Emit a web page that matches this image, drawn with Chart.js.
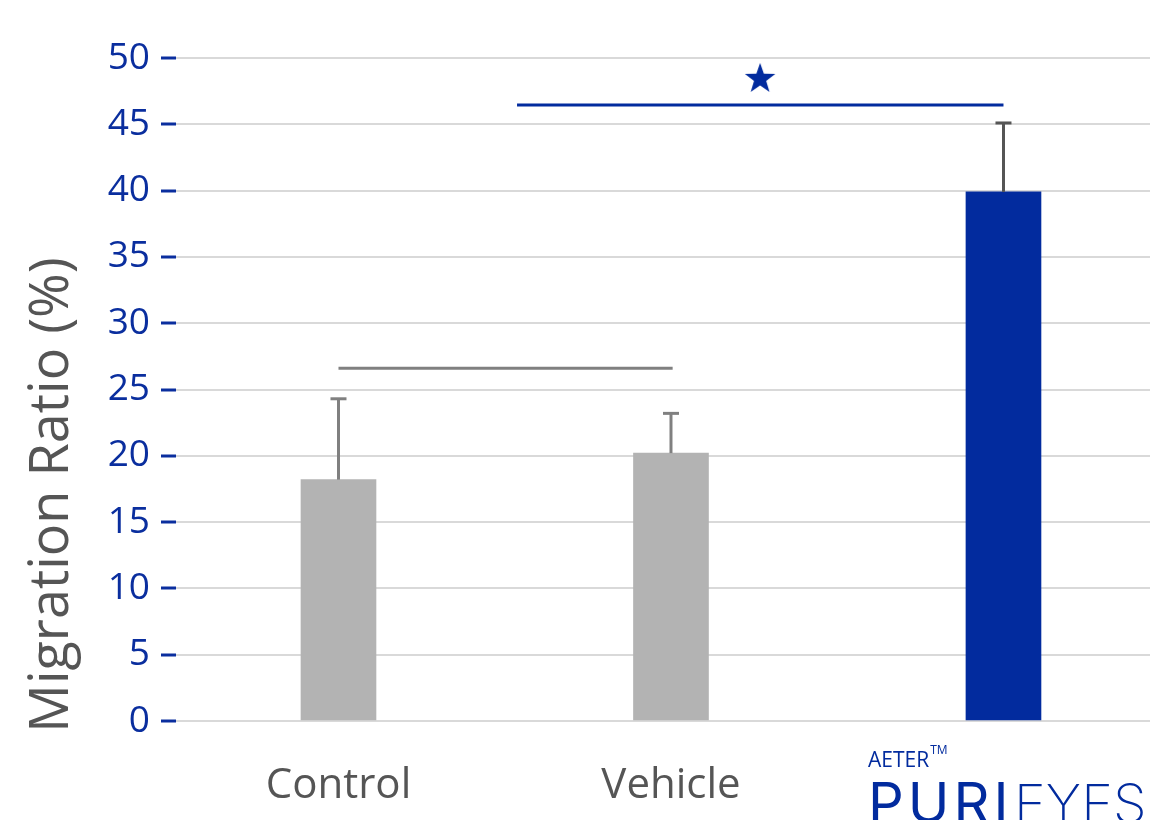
<!DOCTYPE html>
<html><head><meta charset="utf-8">
<script src="https://cdn.jsdelivr.net/npm/chart.js@4.4.1/dist/chart.umd.min.js"></script>
<style>
html,body{margin:0;padding:0;overflow:hidden;background:#fff;width:1150px;height:820px}
#wrap{width:1170px;height:820px;position:relative}
canvas{display:block}
</style>
</head><body><div id="wrap"><canvas id="c" width="1170" height="820"></canvas></div>
<script>
// ---- data ----
const categories = ['Control', 'Vehicle', 'PURI EYES'];
const means = [18.2, 20.2, 39.9];
const errors = [6.1, 3.0, 5.2];
const barColors = ['#b3b3b3', '#b3b3b3', '#022b9e'];
const errorColors = ['#808080', '#808080', '#555555'];
const yMin = 0, yMax = 50, yStep = 5;
const bracketNS = [0, 1.005];      // x positions (category index)
const bracketNSLevel = 26.6;
const bracketSig = [0.537, 2.0];
const bracketSigLevel = 46.45;
const starX = 1.268, starY = 48.5;
const yTitle = 'Migration Ratio (%)';
const logoSmall = 'AETER';
const logoWords = ['PURI', 'EYES'];

const BLUE = '#0a2e9e';
const GREY_TXT = '#555555';
const FONT = "'Open Sans', 'Noto Sans', sans-serif";

// star image for point style
function makeStar(r, color) {
  const c = document.createElement('canvas');
  const s = Math.ceil(r * 2 + 2);
  c.width = s; c.height = s;
  const g = c.getContext('2d');
  g.fillStyle = color;
  g.beginPath();
  const ri = r * 0.40;
  for (let i = 0; i < 10; i++) {
    const rr = i % 2 === 0 ? r : ri;
    const a = -Math.PI / 2 + i * Math.PI / 5;
    const px = s / 2 + rr * Math.cos(a), py = s / 2 + 1 + rr * Math.sin(a);
    if (i === 0) g.moveTo(px, py); else g.lineTo(px, py);
  }
  g.closePath(); g.fill();
  return c;
}
const starImg = makeStar(16, '#022b9e');

const errorBars = {
  id: 'errorBars',
  afterDatasetsDraw(chart) {
    const { ctx, scales: { x, y } } = chart;
    ctx.save();
    means.forEach((m, i) => {
      const px = x.getPixelForValue(i);
      const y0 = y.getPixelForValue(m);
      const y1 = y.getPixelForValue(m + errors[i]);
      ctx.strokeStyle = errorColors[i];
      ctx.lineWidth = 3;
      ctx.beginPath(); ctx.moveTo(px, y0); ctx.lineTo(px, y1); ctx.stroke();
      ctx.beginPath(); ctx.moveTo(px - 8, y1); ctx.lineTo(px + 8, y1); ctx.stroke();
    });
    ctx.restore();
  }
};

const extras = {
  id: 'extras',
  afterDraw(chart) {
    const { ctx } = chart;
    ctx.save();
    // y-axis title
    ctx.translate(68, 495);
    ctx.rotate(-Math.PI / 2);
    ctx.fillStyle = GREY_TXT;
    ctx.font = "54px " + FONT;
    ctx.textAlign = 'center';
    ctx.textBaseline = 'alphabetic';
    ctx.fillText(yTitle, 0, 0);
    ctx.restore();

    // logo for third category
    ctx.save();
    ctx.fillStyle = '#022b9e';
    ctx.textBaseline = 'alphabetic';
    ctx.textAlign = 'left';
    ctx.font = "21px " + FONT;
    ctx.fillText(logoSmall, 868, 767);
    const w = ctx.measureText(logoSmall).width;
    ctx.font = "12px " + FONT;
    ctx.fillText('TM', 868 + w + 1, 754);
    ctx.font = "400 56px Inter, " + FONT;
    ctx.letterSpacing = '4px';
    ctx.fillText(logoWords[0], 868, 823);
    ctx.font = "200 54px Inter, " + FONT;
    ctx.letterSpacing = '0px';
    ctx.fillText(logoWords[1], 1014, 823);
    ctx.restore();
  }
};

new Chart(document.getElementById('c'), {
  data: {
    datasets: [
      {
        type: 'bar',
        data: means.map((v, i) => ({ x: i, y: v })),
        backgroundColor: barColors,
        barThickness: 75,
        order: 3
      },
      {
        type: 'line',
        data: bracketNS.map(v => ({ x: v, y: bracketNSLevel })),
        borderColor: '#808080', borderWidth: 3, pointRadius: 0, order: 1
      },
      {
        type: 'line',
        data: bracketSig.map(v => ({ x: v, y: bracketSigLevel })),
        borderColor: '#022b9e', borderWidth: 3, pointRadius: 0, order: 1
      },
      {
        type: 'line',
        data: [{ x: starX, y: starY }],
        showLine: false, pointStyle: starImg, pointRadius: 16, order: 0
      }
    ]
  },
  options: {
    responsive: false,
    animation: false,
    devicePixelRatio: 1,
    layout: { padding: { top: 58, left: 0, right: 0, bottom: 0 } },
    plugins: { legend: { display: false }, tooltip: { enabled: false } },
    scales: {
      x: {
        type: 'linear',
        offset: false,
        min: -0.4887, max: 2.4497,
        grid: { display: false, offset: false },
        border: { display: false },
        afterBuildTicks: s => { s.ticks = categories.map((_, i) => ({ value: i })); },
        afterFit: s => { s.height = 99; },
        ticks: {
          autoSkip: false, maxRotation: 0, padding: 32,
          color: GREY_TXT,
          font: { family: FONT, size: 42 },
          callback: v => (v < 2 ? categories[v] : '')
        }
      },
      y: {
        min: yMin, max: yMax,
        border: { display: false },
        afterFit: s => { s.width = 176; },
        grid: { color: '#d9d9d9', lineWidth: 2, tickColor: BLUE, tickLength: 15, tickWidth: 3 },
        ticks: {
          stepSize: yStep, padding: 11, color: BLUE,
          font: { family: FONT, size: 37 }
        }
      }
    }
  },
  plugins: [errorBars, extras]
});
</script>
</body></html>
